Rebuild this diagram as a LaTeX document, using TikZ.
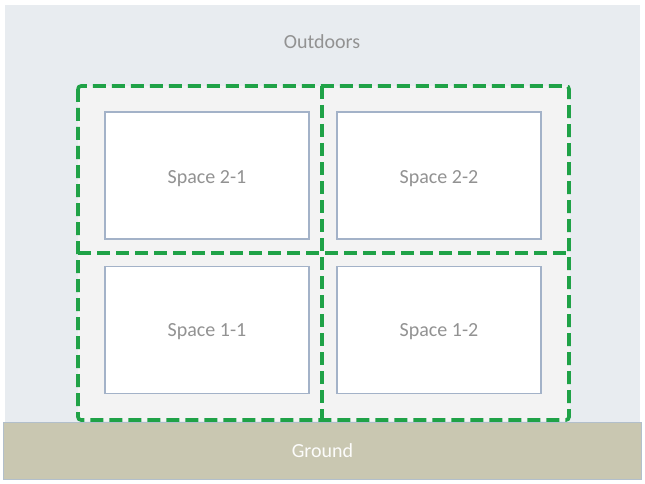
\documentclass[tikz,border=0pt]{standalone}
\usepackage{fontspec}
\setmainfont{Carlito}
\definecolor{outdoor}{HTML}{E8ECF0}
\definecolor{bldg}{HTML}{F3F3F3}
\definecolor{grn}{HTML}{1FA247}
\definecolor{boxline}{HTML}{A3B2C8}
\definecolor{txt}{HTML}{929292}
\definecolor{groundfill}{HTML}{C9C7B1}
\definecolor{groundline}{HTML}{B2BFCB}
\begin{document}
\begin{tikzpicture}[x=1pt,y=-1pt,
  zone/.style={draw=grn, line width=3.6pt, dash pattern=on 13pt off 6pt, rounded corners=3pt},
  spacebox/.style={draw=boxline, line width=1.3pt, fill=white, minimum width=204pt, minimum height=127pt, inner sep=0pt},
  lbl/.style={font=\fontsize{20}{24}\selectfont, text=txt}]
\useasboundingbox (0,0) rectangle (645,484);
\fill[white] (0,0) rectangle (645,484);
\fill[outdoor] (5,5) rectangle (640,422);
\fill[bldg] (78,86) rectangle (570,421);
\node[lbl] (out) at (322,42) {Outdoors};
\node[spacebox, label={[lbl, yshift=-3.5pt]center:Space 2-1}] (s21) at (207,175.5) {};
\node[spacebox, label={[lbl, yshift=-3.5pt]center:Space 2-2}] (s22) at (439,175.5) {};
\node[spacebox, label={[lbl, yshift=-2pt]center:Space 1-1}] (s11) at (207,330) {};
\node[spacebox, label={[lbl, yshift=-2pt]center:Space 1-2}] (s12) at (439,330) {};
\draw[zone] (78,86) rectangle (569,420);
\draw[zone] (322,86) -- (322,420);
\draw[zone] (78,253) -- (569,253);
\node[draw=groundline, line width=1.5pt, fill=groundfill, minimum width=638pt, minimum height=57pt, inner sep=0pt, font=\fontsize{20}{24}\selectfont, text=white!95!groundfill] (ground) at (322.5,451) {Ground};
\end{tikzpicture}
\end{document}
